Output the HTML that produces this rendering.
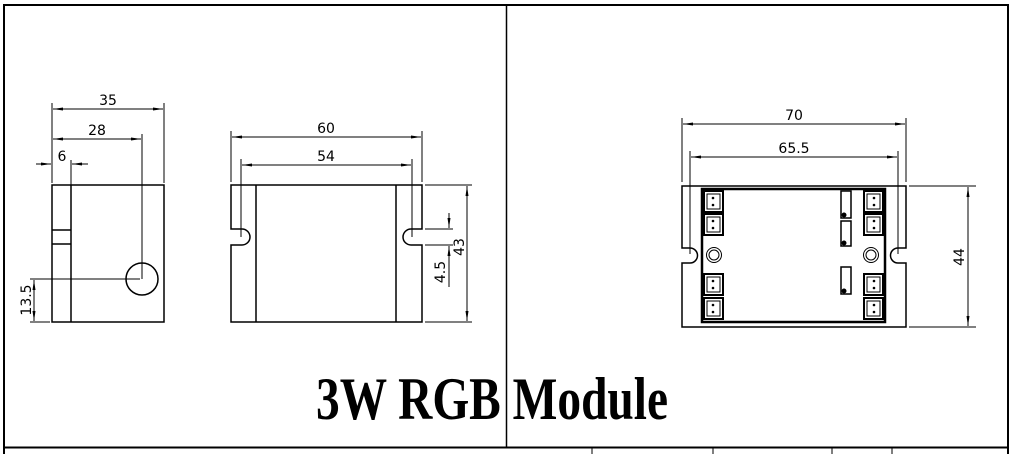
<!DOCTYPE html>
<html><head><meta charset="utf-8"><style>
html,body{margin:0;padding:0;background:#fff;width:1015px;height:454px;overflow:hidden}
svg text{font-family:"DejaVu Sans","Liberation Sans",sans-serif;font-size:14px;fill:#000}
</style></head><body>
<svg width="1015" height="454" viewBox="0 0 1015 454" xmlns="http://www.w3.org/2000/svg">
<defs>
<marker id="a" viewBox="0 0 10 6" refX="10" refY="3" markerWidth="10" markerHeight="6" orient="auto-start-reverse" markerUnits="userSpaceOnUse"><path d="M0,1.5L10,3L0,4.5z" fill="#000"/></marker>
</defs>
<g fill="none" stroke="#000">
<path d="M4,454V5H1008V454" stroke-width="2"/>
<line x1="506.5" y1="5" x2="506.5" y2="447" stroke-width="1.5"/>
<line x1="4" y1="447.5" x2="1008" y2="447.5" stroke-width="2"/>
<line x1="592" y1="447" x2="592" y2="454"/><line x1="713" y1="447" x2="713" y2="454"/>
<line x1="832" y1="447" x2="832" y2="454"/><line x1="892" y1="447" x2="892" y2="454"/>

<g stroke-width="1.5">
<rect x="52" y="185" width="112" height="137"/>
<line x1="71" y1="185" x2="71" y2="322"/>
<line x1="52" y1="230" x2="71" y2="230"/><line x1="52" y1="244" x2="71" y2="244"/>
<circle cx="142" cy="279" r="16"/>
</g>
<g stroke-width="1">
<line x1="52" y1="103" x2="52" y2="183"/><line x1="164" y1="103" x2="164" y2="183"/>
<line x1="53" y1="109" x2="163" y2="109" marker-start="url(#a)" marker-end="url(#a)"/>
<line x1="142" y1="134" x2="142" y2="279"/>
<line x1="53" y1="139" x2="141" y2="139" marker-start="url(#a)" marker-end="url(#a)"/>
<line x1="71" y1="160" x2="71" y2="185"/>
<line x1="36" y1="164" x2="51" y2="164" marker-end="url(#a)"/>
<line x1="88" y1="164" x2="72" y2="164" marker-end="url(#a)"/>
<line x1="30" y1="279" x2="140" y2="279"/>
<line x1="30" y1="322" x2="50" y2="322"/>
<line x1="34" y1="280" x2="34" y2="321" marker-start="url(#a)" marker-end="url(#a)"/>
</g>

<g stroke-width="1.5">
<path d="M231,185H422V229H411A8,8 0 0 0 411,245H422V322H231V245H242A8,8 0 0 0 242,229H231Z"/>
<line x1="256" y1="185" x2="256" y2="322"/><line x1="396" y1="185" x2="396" y2="322"/>
</g>
<g stroke-width="1">
<line x1="231" y1="131" x2="231" y2="182"/><line x1="422" y1="131" x2="422" y2="182"/>
<line x1="232" y1="137" x2="421" y2="137" marker-start="url(#a)" marker-end="url(#a)"/>
<line x1="241" y1="159" x2="241" y2="237"/><line x1="412" y1="159" x2="412" y2="237"/>
<line x1="242" y1="165" x2="411" y2="165" marker-start="url(#a)" marker-end="url(#a)"/>
<line x1="425" y1="185" x2="472" y2="185"/><line x1="425" y1="322" x2="472" y2="322"/>
<line x1="467" y1="186" x2="467" y2="321" marker-start="url(#a)" marker-end="url(#a)"/>
<line x1="425" y1="229" x2="453" y2="229"/><line x1="425" y1="245" x2="453" y2="245"/>
<line x1="449" y1="213" x2="449" y2="228" marker-end="url(#a)"/>
<line x1="449" y1="287" x2="449" y2="246" marker-end="url(#a)"/>
</g>

<g stroke-width="1.5">
<path d="M682,186H906V248H898A7.5,7.5 0 0 0 898,263H906V327H682V263H690A7.5,7.5 0 0 0 690,248H682Z"/>
</g>
<rect x="702" y="189" width="183" height="133" stroke-width="2.5"/>
<g stroke-width="2">
<rect x="704" y="191" width="19" height="21"/><rect x="704" y="214" width="19" height="21"/>
<rect x="704" y="274" width="19" height="21"/><rect x="704" y="298" width="19" height="21"/>
<rect x="864" y="191" width="19" height="21"/><rect x="864" y="214" width="19" height="21"/>
<rect x="864" y="274" width="19" height="21"/><rect x="864" y="298" width="19" height="21"/>
</g>
<g stroke-width="1.5">
<rect x="841" y="191" width="10" height="27"/><rect x="841" y="221" width="10" height="25"/>
<rect x="841" y="267" width="10" height="27"/>
</g>
<g stroke-width="1">
<rect x="707" y="194" width="13" height="15"/><rect x="707" y="217" width="13" height="15"/>
<rect x="707" y="277" width="13" height="15"/><rect x="707" y="301" width="13" height="15"/>
<rect x="867" y="194" width="13" height="15"/><rect x="867" y="217" width="13" height="15"/>
<rect x="867" y="277" width="13" height="15"/><rect x="867" y="301" width="13" height="15"/>
<circle cx="714" cy="255" r="7.5"/><circle cx="714" cy="255" r="5"/>
<circle cx="871" cy="255" r="7.5"/><circle cx="871" cy="255" r="5"/>
<line x1="682" y1="118" x2="682" y2="182"/><line x1="906" y1="118" x2="906" y2="182"/>
<line x1="683" y1="124" x2="905" y2="124" marker-start="url(#a)" marker-end="url(#a)"/>
<line x1="690" y1="151" x2="690" y2="254"/><line x1="898" y1="151" x2="898" y2="254"/>
<line x1="691" y1="157" x2="897" y2="157" marker-start="url(#a)" marker-end="url(#a)"/>
<line x1="909" y1="186" x2="976" y2="186"/><line x1="909" y1="327" x2="976" y2="327"/>
<line x1="968" y1="187" x2="968" y2="326" marker-start="url(#a)" marker-end="url(#a)"/>
</g>
</g>
<g fill="#000">
<circle cx="713" cy="198" r="1.3"/><circle cx="713" cy="205" r="1.3"/>
<circle cx="713" cy="221" r="1.3"/><circle cx="713" cy="228" r="1.3"/>
<circle cx="713" cy="281" r="1.3"/><circle cx="713" cy="288" r="1.3"/>
<circle cx="713" cy="305" r="1.3"/><circle cx="713" cy="312" r="1.3"/>
<circle cx="874" cy="198" r="1.3"/><circle cx="874" cy="205" r="1.3"/>
<circle cx="874" cy="221" r="1.3"/><circle cx="874" cy="228" r="1.3"/>
<circle cx="874" cy="281" r="1.3"/><circle cx="874" cy="288" r="1.3"/>
<circle cx="874" cy="305" r="1.3"/><circle cx="874" cy="312" r="1.3"/>
<circle cx="844" cy="215" r="2.5"/><circle cx="844" cy="243" r="2.5"/><circle cx="844" cy="291" r="2.5"/>
</g>
<text x="108" y="105" text-anchor="middle">35</text>
<text x="97" y="135" text-anchor="middle">28</text>
<text x="62" y="161" text-anchor="middle">6</text>
<text transform="translate(31,300) rotate(-90)" text-anchor="middle">13.5</text>
<text x="326" y="133" text-anchor="middle">60</text>
<text x="326" y="161" text-anchor="middle">54</text>
<text transform="translate(445,272) rotate(-90)" text-anchor="middle">4.5</text>
<text transform="translate(464,247) rotate(-90)" text-anchor="middle">43</text>
<text x="794" y="120" text-anchor="middle">70</text>
<text x="794" y="153" text-anchor="middle">65.5</text>
<text transform="translate(964,257) rotate(-90)" text-anchor="middle">44</text>
<text x="492" y="419" text-anchor="middle" style="font-family:'Liberation Serif',serif;font-weight:bold;font-size:60px" textLength="352" lengthAdjust="spacingAndGlyphs">3W RGB Module</text>
</svg>
</body></html>
